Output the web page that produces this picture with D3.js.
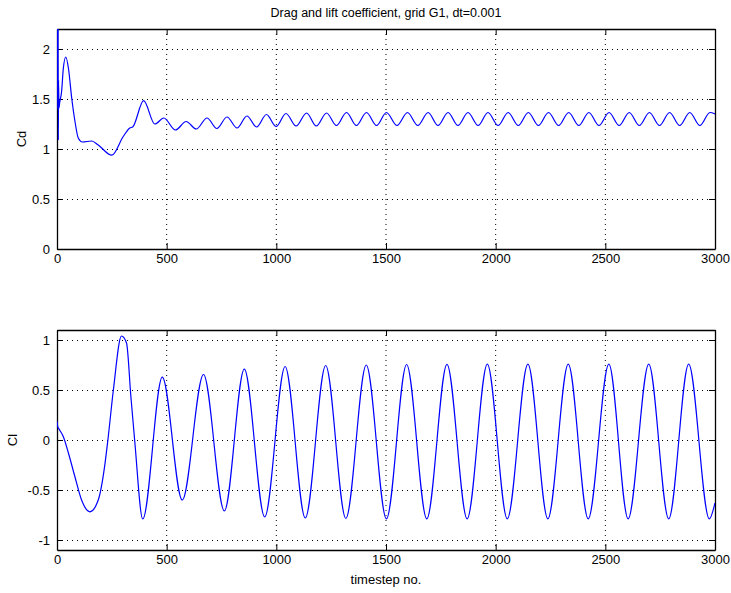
<!DOCTYPE html>
<html><head><meta charset="utf-8">
<script src="https://cdn.jsdelivr.net/npm/d3@7"></script>
<style>
body{margin:0;background:#fff;}
text{font-family:"Liberation Sans",Arial,Helvetica,sans-serif;}
</style></head>
<body>
<svg id="c" width="731" height="593"></svg>
<script>
// ---- data ----
const titleText = "Drag and lift coefficient, grid G1, dt=0.001";
const xLabel = "timestep no.";
const xTicks = [0, 500, 1000, 1500, 2000, 2500, 3000];
const cdTicks = [0, 0.5, 1, 1.5, 2];
const clTicks = [-1, -0.5, 0, 0.5, 1];

const cdSteps = [0,4,6,7,9,12,21,29,40,52,67,82,97,116,158,188,250,302,332,345,395,446,487,540,589,635,684,729,775,821,866,910,955,999,1044,1090,1138,1182,1229,1274,1320,1365,1411,1457,1502,1550,1598,1645,1692,1737,1783,1828,1874,1920,1965,2011,2057,2103,2149,2195,2241,2287,2333,2379,2425,2471,2517,2563,2609,2655,2701,2747,2793,2839,2885,2931,2977,3000];
const cdValues = [1.4,3.5,1.09,1.69,1.41,1.46,1.575,1.81,1.92,1.81,1.51,1.275,1.11,1.07,1.08,1.04,0.938,1.125,1.21,1.22,1.483,1.25,1.31,1.19,1.275,1.20,1.31,1.205,1.32,1.21,1.33,1.22,1.345,1.225,1.355,1.23,1.36,1.23,1.36,1.235,1.365,1.235,1.365,1.235,1.365,1.235,1.365,1.235,1.365,1.235,1.365,1.235,1.365,1.235,1.365,1.235,1.365,1.235,1.365,1.235,1.365,1.235,1.365,1.235,1.365,1.235,1.365,1.235,1.365,1.235,1.365,1.235,1.365,1.235,1.365,1.235,1.365,1.35];

const clSteps = [0,4,9,29,52,82,112,150,188,219,232,257,294,317,337,354,391,480,571,668,763,854,947,1040,1132,1225,1317,1410,1502,1594,1686,1778,1870,1962,2053,2147,2238,2331,2422,2516,2604,2698,2789,2880,2974,3000];
const clValues = [0.19,0.13,0.11,0.033,-0.13,-0.37,-0.6,-0.718,-0.6,-0.233,0.0,0.5,1.04,0.97,0.43,0.0,-0.79,0.628,-0.60,0.655,-0.71,0.708,-0.77,0.735,-0.78,0.745,-0.785,0.75,-0.788,0.755,-0.788,0.757,-0.788,0.758,-0.788,0.758,-0.788,0.758,-0.788,0.758,-0.788,0.758,-0.788,0.758,-0.788,-0.63];

// ---- drawing ----
const svg = d3.select("#c");
const L = 57, R = 715;
const x = d3.scaleLinear().domain([0, 3000]).range([L, R]);

function panel(top, bottom, domain, ticks, steps, values, ylab, ylabX, id) {
  const y = d3.scaleLinear().domain(domain).range([bottom, top]);
  const g = svg.append("g");
  // grid
  g.selectAll(".gx").data(xTicks.slice(1, -1)).enter().append("line")
    .attr("x1", d => x(d)).attr("x2", d => x(d)).attr("y1", top).attr("y2", bottom)
    .attr("stroke", "#000").attr("stroke-width", 1).attr("stroke-dasharray", "1,4");
  g.selectAll(".gy").data(ticks).enter().append("line")
    .attr("y1", d => Math.round(y(d)) + 0.5).attr("y2", d => Math.round(y(d)) + 0.5).attr("x1", L).attr("x2", R)
    .attr("stroke", "#000").attr("stroke-width", 1).attr("stroke-dasharray", "1,4");
  // clip
  svg.append("clipPath").attr("id", id).append("rect")
    .attr("x", L).attr("y", top).attr("width", R - L).attr("height", bottom - top);
  const pts = steps.map((s, i) => [s, values[i]]);
  // axes
  const fmt = d => String(d);
  const axB = g.append("g").attr("transform", `translate(0,${bottom})`)
    .call(d3.axisBottom(x).tickValues(xTicks).tickSizeInner(-6).tickSizeOuter(0).tickPadding(5).tickFormat(fmt));
  const axT = g.append("g").attr("transform", `translate(0,${top})`)
    .call(d3.axisTop(x).tickValues(xTicks).tickSizeInner(-6).tickSizeOuter(0).tickFormat(""));
  const axL = g.append("g").attr("transform", `translate(${L},0)`)
    .call(d3.axisLeft(y).tickValues(ticks).tickSizeInner(-6).tickSizeOuter(0).tickPadding(7).tickFormat(fmt));
  const axR = g.append("g").attr("transform", `translate(${R},0)`)
    .call(d3.axisRight(y).tickValues(ticks).tickSizeInner(-6).tickSizeOuter(0).tickFormat(""));
  [axB, axT, axL, axR].forEach(a => {
    a.selectAll("text").attr("font-size", 13).attr("fill", "#000")
      .attr("font-family", "'Liberation Sans',Arial,sans-serif");
    a.selectAll("line").attr("stroke", "#000");
    a.select(".domain").attr("stroke", "#000").attr("stroke-width", 1.3);
  });
  g.append("path").datum(pts)
    .attr("clip-path", `url(#${id})`)
    .attr("fill", "none").attr("stroke", "#0000ff").attr("stroke-width", 1.2)
    .attr("d", d3.line().x(d => x(d[0])).y(d => y(d[1])).curve(d3.curveMonotoneX));
  g.append("text").attr("transform", `translate(${ylabX},${(top + bottom) / 2}) rotate(-90)`)
    .attr("text-anchor", "middle").attr("font-size", 13).text(ylab);
  return y;
}

panel(29, 249, [0, 2.2], cdTicks, cdSteps, cdValues, "Cd", 26, "clipA");
panel(330, 550, [-1.1, 1.1], clTicks, clSteps, clValues, "Cl", 17, "clipB");

svg.append("text").attr("x", (L + R) / 2).attr("y", 17).attr("text-anchor", "middle")
  .attr("font-size", 12.5).text(titleText);
svg.append("text").attr("x", (L + R) / 2).attr("y", 584).attr("text-anchor", "middle")
  .attr("font-size", 13).text(xLabel);
</script>
</body></html>
